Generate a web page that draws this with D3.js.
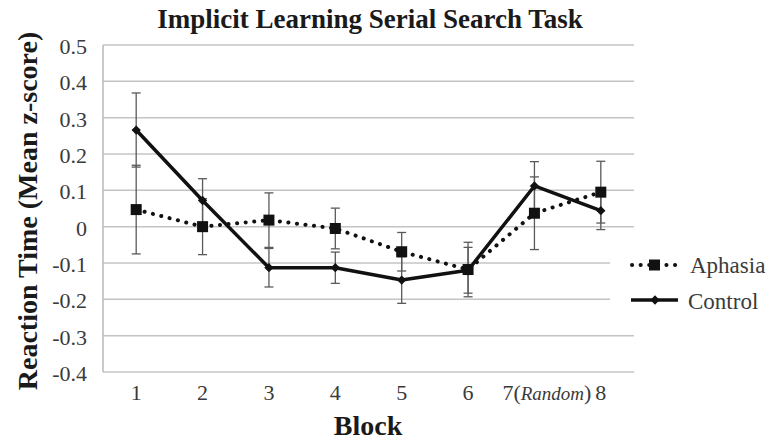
<!DOCTYPE html>
<html>
<head>
<meta charset="utf-8">
<script src="https://cdn.jsdelivr.net/npm/d3@7"></script>
<style>
  body { margin: 0; background: #fff; }
  svg text { font-family: "Liberation Serif", "Times New Roman", Times, "DejaVu Serif", serif; }
</style>
</head>
<body>
<div id="chart"></div>
<script>
// Chart data
var blocks = ["1", "2", "3", "4", "5", "6", "7", "8"];
var aphasiaMean = [0.047, 0.000, 0.018, -0.005, -0.069, -0.118, 0.037, 0.095];
var aphasiaErr = [0.122, 0.077, 0.075, 0.056, 0.053, 0.075, 0.100, 0.085];
var controlMean = [0.266, 0.072, -0.113, -0.113, -0.147, -0.120, 0.112, 0.044];
var controlErr = [0.102, 0.060, 0.053, 0.043, 0.064, 0.063, 0.067, 0.052];
var yTicks = [0.5, 0.4, 0.3, 0.2, 0.1, 0, -0.1, -0.2, -0.3, -0.4];
var yTickLabels = ["0.5", "0.4", "0.3", "0.2", "0.1", "0", "-0.1", "-0.2", "-0.3", "-0.4"];

var width = 770, height = 443;
var plot = { left: 103, right: 634, top: 45, bottom: 372 };
var serif = '"Liberation Serif", "Times New Roman", Times, "DejaVu Serif", serif';

var svg = d3.select("#chart")
    .append("svg")
    .attr("width", width)
    .attr("height", height);

var x = d3.scaleBand()
    .domain(blocks)
    .range([plot.left, plot.right]);
var y = d3.scaleLinear()
    .domain([-0.4, 0.5])
    .range([plot.bottom, plot.top]);

var cx = d => x(d) + x.bandwidth() / 2;

// Gridlines
svg.append("g")
    .selectAll("line")
    .data(yTicks)
    .join("line")
    .attr("x1", plot.left)
    .attr("x2", plot.right)
    .attr("y1", d => y(d))
    .attr("y2", d => y(d))
    .attr("stroke", "#c4c4c4")
    .attr("stroke-width", 1.5);

// Left axis line
svg.append("line")
    .attr("x1", plot.left).attr("x2", plot.left)
    .attr("y1", plot.top).attr("y2", plot.bottom)
    .attr("stroke", "#b8b8b8")
    .attr("stroke-width", 1.5);

// Y tick labels
svg.append("g")
    .selectAll("text")
    .data(yTicks)
    .join("text")
    .attr("x", 87)
    .attr("y", d => y(d) + 9)
    .attr("text-anchor", "end")
    .attr("font-family", serif)
    .attr("font-size", 22)
    .attr("fill", "#3a3a3a")
    .text((d, i) => yTickLabels[i]);

// X tick labels
var xl = svg.append("g");
blocks.forEach(function (b) {
    var t = xl.append("text")
        .attr("x", cx(b))
        .attr("y", 400)
        .attr("font-family", serif)
        .attr("font-size", 22)
        .attr("fill", "#3a3a3a");
    if (b === "7") {
        t.attr("x", cx(b) - 32).attr("text-anchor", "start");
        t.append("tspan").text("7(");
        t.append("tspan").attr("font-style", "italic").attr("font-size", 19).text("Random");
        t.append("tspan").text(")");
    } else {
        t.attr("text-anchor", "middle").text(b);
    }
});

// Titles
svg.append("text")
    .attr("x", 370)
    .attr("y", 28)
    .attr("text-anchor", "middle")
    .attr("font-family", serif)
    .attr("font-size", 27)
    .attr("font-weight", "bold")
    .attr("fill", "#1a1a1a")
    .text("Implicit Learning Serial Search Task");

svg.append("text")
    .attr("x", 368)
    .attr("y", 435)
    .attr("text-anchor", "middle")
    .attr("font-family", serif)
    .attr("font-size", 28)
    .attr("font-weight", "bold")
    .attr("fill", "#1a1a1a")
    .text("Block");

svg.append("text")
    .attr("transform", "translate(37,211) rotate(-90)")
    .attr("text-anchor", "middle")
    .attr("font-family", serif)
    .attr("font-size", 28)
    .attr("font-weight", "bold")
    .attr("fill", "#1a1a1a")
    .text("Reaction Time (Mean z-score)");

// Legend background covers part of the grid
svg.append("rect")
    .attr("x", 610).attr("y", 245)
    .attr("width", 160).attr("height", 75)
    .attr("fill", "#fff");

// Error bars
function errorBars(means, errs) {
    var g = svg.append("g")
        .attr("stroke", "#5a5a5a")
        .attr("stroke-width", 1.3);
    blocks.forEach(function (b, i) {
        var top = y(means[i] + errs[i]), bot = y(means[i] - errs[i]);
        g.append("line").attr("x1", cx(b)).attr("x2", cx(b)).attr("y1", top).attr("y2", bot);
        g.append("line").attr("x1", cx(b) - 4.5).attr("x2", cx(b) + 4.5).attr("y1", top).attr("y2", top);
        g.append("line").attr("x1", cx(b) - 4.5).attr("x2", cx(b) + 4.5).attr("y1", bot).attr("y2", bot);
    });
}
errorBars(controlMean, controlErr);
errorBars(aphasiaMean, aphasiaErr);

var line = d3.line()
    .x((d, i) => cx(blocks[i]))
    .y(d => y(d));

// Aphasia: dotted line with squares
svg.append("path")
    .attr("d", line(aphasiaMean))
    .attr("fill", "none")
    .attr("stroke", "#111")
    .attr("stroke-width", 4)
    .attr("stroke-linecap", "round")
    .attr("stroke-dasharray", "0.1 8.5");

svg.append("g")
    .selectAll("rect")
    .data(aphasiaMean)
    .join("rect")
    .attr("x", (d, i) => cx(blocks[i]) - 5.5)
    .attr("y", d => y(d) - 5.5)
    .attr("width", 11)
    .attr("height", 11)
    .attr("fill", "#111");

// Control: solid line with diamonds
svg.append("path")
    .attr("d", line(controlMean))
    .attr("fill", "none")
    .attr("stroke", "#111")
    .attr("stroke-width", 3.5)
    .attr("stroke-linejoin", "round");

var diamond = d3.symbol().type(d3.symbolDiamond2).size(55);
svg.append("g")
    .selectAll("path")
    .data(controlMean)
    .join("path")
    .attr("transform", (d, i) => "translate(" + cx(blocks[i]) + "," + y(d) + ")")
    .attr("d", diamond)
    .attr("fill", "#111");

// Legend
var lg = svg.append("g");
lg.append("line")
    .attr("x1", 632).attr("x2", 677)
    .attr("y1", 265).attr("y2", 265)
    .attr("stroke", "#111")
    .attr("stroke-width", 4)
    .attr("stroke-linecap", "round")
    .attr("stroke-dasharray", "0.1 8.5");
lg.append("rect")
    .attr("x", 649).attr("y", 259.5)
    .attr("width", 11).attr("height", 11)
    .attr("fill", "#111");
lg.append("text")
    .attr("x", 690).attr("y", 273)
    .attr("font-family", serif)
    .attr("font-size", 23)
    .attr("fill", "#3a3a3a")
    .text("Aphasia");

lg.append("line")
    .attr("x1", 631).attr("x2", 678)
    .attr("y1", 300).attr("y2", 300)
    .attr("stroke", "#111")
    .attr("stroke-width", 3.5);
lg.append("path")
    .attr("transform", "translate(655,300)")
    .attr("d", diamond)
    .attr("fill", "#111");
lg.append("text")
    .attr("x", 688).attr("y", 309)
    .attr("font-family", serif)
    .attr("font-size", 23)
    .attr("fill", "#3a3a3a")
    .text("Control");
</script>
</body>
</html>
